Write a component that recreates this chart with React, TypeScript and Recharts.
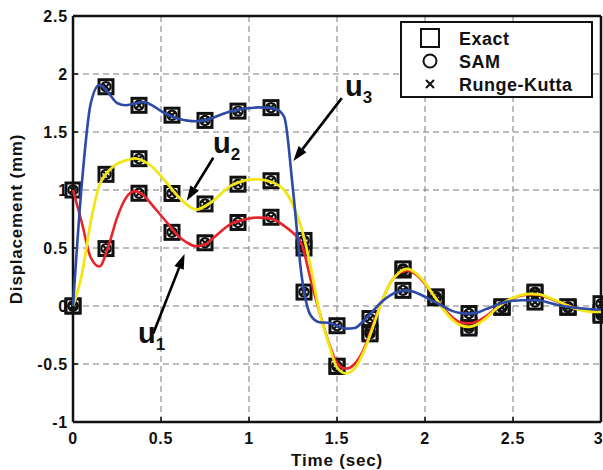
import { ComposedChart, Line, Scatter, XAxis, YAxis, CartesianGrid, ReferenceLine, ReferenceDot } from 'recharts';

// time grid for the continuous curves (sec)
const time = [
  0, 0.05, 0.1, 0.15, 0.2, 0.25, 0.3, 0.35, 0.4, 0.45, 0.5, 0.55, 0.6, 0.65, 0.7, 0.75, 0.8, 0.85, 0.9, 0.95,
  1, 1.05, 1.1, 1.15, 1.2, 1.25, 1.3, 1.35, 1.4, 1.45, 1.5, 1.55, 1.6, 1.65, 1.7, 1.75, 1.8, 1.85, 1.9, 1.95,
  2, 2.05, 2.1, 2.15, 2.2, 2.25, 2.3, 2.35, 2.4, 2.45, 2.5, 2.55, 2.6, 2.65, 2.7, 2.75, 2.8, 2.85, 2.9, 2.95, 3,
];

// displacement (mm)
const u1 = [
  1.0, 0.72, 0.42, 0.34, 0.51, 0.76, 0.93, 0.99, 0.955, 0.87, 0.78, 0.69, 0.6, 0.545, 0.515, 0.53, 0.59, 0.655, 0.71, 0.735,
  0.755, 0.762, 0.76, 0.74, 0.69, 0.63, 0.53, 0.23, -0.05, -0.3, -0.49, -0.54, -0.5, -0.38, -0.18, 0.02, 0.19, 0.28, 0.305, 0.27,
  0.19, 0.09, -0.01, -0.09, -0.14, -0.15, -0.13, -0.085, -0.025, 0.03, 0.065, 0.09, 0.1, 0.095, 0.07, 0.04, 0.01, -0.015, -0.035, -0.045, -0.045,
];
const u2 = [
  0, 0.27, 0.72, 1.04, 1.16, 1.225, 1.255, 1.272, 1.25, 1.2, 1.12, 1.03, 0.94, 0.87, 0.83, 0.86, 0.91, 0.98, 1.04, 1.07,
  1.09, 1.092, 1.08, 1.055, 1.0, 0.87, 0.66, 0.34, -0.05, -0.31, -0.53, -0.58, -0.54, -0.4, -0.2, 0.02, 0.19, 0.285, 0.32, 0.28,
  0.2, 0.09, -0.02, -0.11, -0.165, -0.18, -0.155, -0.1, -0.03, 0.03, 0.07, 0.095, 0.105, 0.1, 0.075, 0.045, 0.01, -0.02, -0.04, -0.05, -0.05,
];
const u3 = [
  0, 1.05, 1.74, 1.905, 1.84, 1.75, 1.73, 1.745, 1.758, 1.73, 1.68, 1.64, 1.615, 1.598, 1.593, 1.6, 1.625, 1.655, 1.68, 1.695,
  1.705, 1.712, 1.71, 1.7, 1.63, 1.0, 0.25, -0.08, -0.14, -0.145, -0.17, -0.195, -0.19, -0.13, -0.05, 0.03, 0.09, 0.125, 0.135, 0.115,
  0.08, 0.04, 0.0, -0.04, -0.06, -0.065, -0.055, -0.025, 0.005, 0.03, 0.045, 0.05, 0.05, 0.048, 0.03, 0.01, -0.005, -0.015, -0.022, -0.028, -0.03,
];

// sampled points (Exact / SAM / Runge-Kutta coincide)
const markTime = [0, 0.1875, 0.375, 0.5625, 0.75, 0.9375, 1.125, 1.3125, 1.5, 1.6875, 1.875, 2.0625, 2.25, 2.4375, 2.625, 2.8125, 3];
const u1Mark = [1.0, 0.495, 0.972, 0.635, 0.545, 0.72, 0.765, 0.5, -0.52, -0.22, 0.31, 0.07, -0.17, -0.01, 0.11, -0.01, -0.06];
const u2Mark = [0, 1.135, 1.27, 0.97, 0.88, 1.05, 1.08, 0.565, -0.52, -0.24, 0.32, 0.077, -0.19, -0.01, 0.12, -0.01, -0.08];
const u3Mark = [0, 1.89, 1.73, 1.645, 1.6, 1.68, 1.71, 0.12, -0.17, -0.108, 0.135, 0.077, -0.065, -0.008, 0.034, -0.008, 0.02];

const xTicks = [0, 0.5, 1, 1.5, 2, 2.5, 3];
const yTicks = [-1, -0.5, 0, 0.5, 1, 1.5, 2, 2.5];

const curveRows = time.map((t, i) => ({ t, u1: u1[i], u2: u2[i], u3: u3[i] }));
const markRows = markTime.map((t, i) => ({ t, u1: u1Mark[i], u2: u2Mark[i], u3: u3Mark[i] }));

// annotation arrows in data coordinates: tail -> head
const arrows = [
  { id: 'u1', sub: '1', from: { x: 0.456, y: -0.237 }, to: { x: 0.634, y: 0.449 }, text: { x: 0.369, y: -0.32 } },
  { id: 'u2', sub: '2', from: { x: 0.797, y: 1.278 }, to: { x: 0.646, y: 0.907 }, text: { x: 0.795, y: 1.318 } },
  { id: 'u3', sub: '3', from: { x: 1.527, y: 1.792 }, to: { x: 1.252, y: 1.25 }, text: { x: 1.545, y: 1.807 } },
];

const FONT = '"Liberation Sans", Arial, Helvetica, sans-serif';
const BLUE = '#2c4aa6';
const YELLOW = '#f2e614';
const RED = '#e8232b';

const tickStyle = { fill: '#111', fontSize: 16, fontWeight: 'bold', fontFamily: FONT, letterSpacing: 0.8 };

const squareShape = (p: any) => (
  <rect x={p.cx - 7} y={p.cy - 7} width={14} height={14} fill="#fff" stroke="#111" strokeWidth={3} />
);
const circleShape = (p: any) => <circle cx={p.cx} cy={p.cy} r={4.6} fill="none" stroke="#111" strokeWidth={2.2} />;
const crossShape = (p: any) => (
  <path d={`M${p.cx - 3.8},${p.cy - 3.8}L${p.cx + 3.8},${p.cy + 3.8}M${p.cx - 3.8},${p.cy + 3.8}L${p.cx + 3.8},${p.cy - 3.8}`} stroke="#111" strokeWidth={2.2} />
);

const arrowShape = (p: any) => {
  const { x1, y1, x2, y2 } = p;
  const ang = Math.atan2(y2 - y1, x2 - x1);
  const len = 15;
  const half = 5;
  const bx = x2 - len * Math.cos(ang);
  const by = y2 - len * Math.sin(ang);
  const px = -Math.sin(ang) * half;
  const py = Math.cos(ang) * half;
  return (
    <g>
      <line x1={x1} y1={y1} x2={bx} y2={by} stroke="#000" strokeWidth={2.6} />
      <polygon points={`${x2},${y2} ${bx + px},${by + py} ${bx - px},${by - py}`} fill="#000" />
    </g>
  );
};

const labelShape = (sub: string) => (p: any) => (
  <text x={p.cx} y={p.cy} fontFamily={FONT} fontWeight="bold" fontSize={29} fill="#111">
    u<tspan fontSize={17} dy={7}>{sub}</tspan>
  </text>
);

function LegendBox() {
  const rows = [
    { label: 'Exact', big: <rect x={-9} y={-9} width={18} height={18} fill="none" stroke="#111" strokeWidth={2} /> },
    { label: 'SAM', big: <circle cx={0} cy={0} r={6.5} fill="none" stroke="#111" strokeWidth={2} /> },
    { label: 'Runge-Kutta', big: <path d="M-4,-4L4,4M-4,4L4,-4" stroke="#111" strokeWidth={2} /> },
  ];
  return (
    <svg width={193} height={77} style={{ position: 'absolute', left: 400, top: 21 }}>
      <rect x={1} y={1} width={191} height={75} fill="#fff" stroke="#111" strokeWidth={2} />
      {rows.map((r, i) => (
        <g key={r.label}>
          <g transform={`translate(30, ${17 + i * 23})`}>{r.big}</g>
          <text x={59} y={24 + i * 23} fontFamily={FONT} fontWeight="bold" fontSize={18} letterSpacing={0.5} fill="#111">
            {r.label}
          </text>
        </g>
      ))}
    </svg>
  );
}

export default function App() {
  return (
    <div style={{ position: 'absolute', left: 0, top: 0, width: 603, height: 470, background: '#fff' }}>
      <ComposedChart width={603} height={470} data={curveRows} margin={{ top: 15, right: 1, left: 10, bottom: 18 }}>
        <CartesianGrid stroke="#7a7a7a" strokeDasharray="6 4" />
        <XAxis
          dataKey="t"
          type="number"
          domain={[0, 3]}
          ticks={xTicks}
          height={30}
          tick={tickStyle}
          tickSize={-5}
          tickMargin={16}
          tickLine={{ stroke: '#111', strokeWidth: 1.5 }}
          axisLine={{ stroke: '#111', strokeWidth: 2.5 }}
          label={{ value: 'Time (sec)', position: 'bottom', offset: 2, fill: '#111', fontSize: 17, fontWeight: 'bold', fontFamily: FONT, letterSpacing: 0.8 }}
        />
        <XAxis
          xAxisId="top"
          orientation="top"
          dataKey="t"
          type="number"
          domain={[0, 3]}
          ticks={xTicks}
          height={1}
          tick={false}
          tickSize={-5}
          tickLine={{ stroke: '#111', strokeWidth: 1.5 }}
          axisLine={{ stroke: '#111', strokeWidth: 2.5 }}
        />
        <YAxis
          type="number"
          domain={[-1, 2.5]}
          ticks={yTicks}
          width={63}
          tick={tickStyle}
          tickSize={-5}
          tickMargin={10}
          tickLine={{ stroke: '#111', strokeWidth: 1.5 }}
          axisLine={{ stroke: '#111', strokeWidth: 2.5 }}
          label={{ value: 'Displacement (mm)', angle: -90, position: 'insideLeft', offset: 6, fill: '#111', fontSize: 17, fontWeight: 'bold', fontFamily: FONT, letterSpacing: 0.8, style: { textAnchor: 'middle' } }}
        />
        <YAxis
          yAxisId="right"
          orientation="right"
          type="number"
          domain={[-1, 2.5]}
          ticks={yTicks}
          width={1}
          tick={false}
          tickSize={-5}
          tickLine={{ stroke: '#111', strokeWidth: 1.5 }}
          axisLine={{ stroke: '#111', strokeWidth: 2.5 }}
        />

        {(['u1', 'u2', 'u3'] as const).map((k) => (
          <Scatter key={`ex-${k}`} name="Exact" data={markRows} dataKey={k} shape={squareShape} isAnimationActive={false} zIndex={300} />
        ))}
        {(['u1', 'u2', 'u3'] as const).map((k) => (
          <Scatter key={`sam-${k}`} name="SAM" data={markRows} dataKey={k} shape={circleShape} isAnimationActive={false} zIndex={310} />
        ))}
        {(['u1', 'u2', 'u3'] as const).map((k) => (
          <Scatter key={`rk-${k}`} name="Runge-Kutta" data={markRows} dataKey={k} shape={crossShape} isAnimationActive={false} zIndex={320} />
        ))}

        <Line dataKey="u1" type="monotone" stroke={RED} strokeWidth={2.6} dot={false} activeDot={false} isAnimationActive={false} zIndex={700} />
        <Line dataKey="u2" type="monotone" stroke={YELLOW} strokeWidth={2.8} dot={false} activeDot={false} isAnimationActive={false} zIndex={710} />
        <Line dataKey="u3" type="monotone" stroke={BLUE} strokeWidth={2.6} dot={false} activeDot={false} isAnimationActive={false} zIndex={720} />

        {arrows.map((a) => (
          <ReferenceLine key={`arr-${a.id}`} segment={[a.from, a.to]} shape={arrowShape} zIndex={800} />
        ))}
        {arrows.map((a) => (
          <ReferenceDot key={`lab-${a.id}`} x={a.text.x} y={a.text.y} r={1} shape={labelShape(a.sub)} zIndex={800} />
        ))}
      </ComposedChart>
      <LegendBox />
    </div>
  );
}
